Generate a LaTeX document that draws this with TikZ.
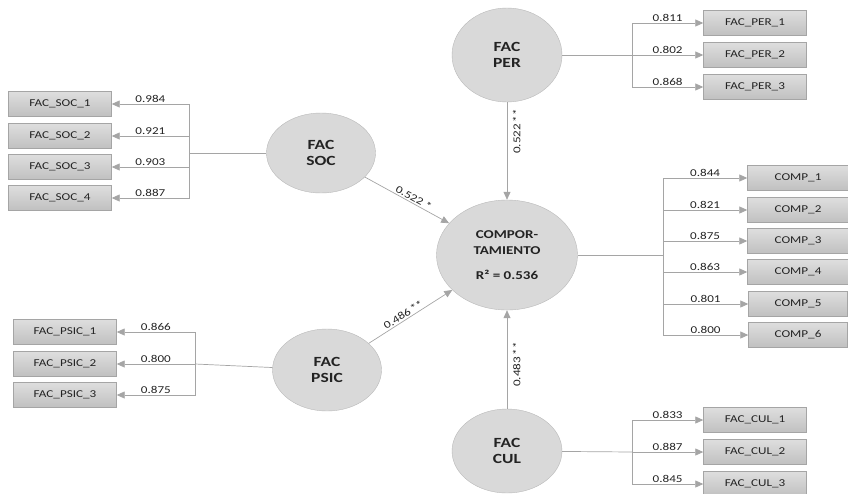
\documentclass[tikz,border=0pt]{standalone}
\usepackage{fontspec}
\setmainfont{Carlito}
\newfontfamily\widefont[FakeStretch=1.25]{Carlito}
\usetikzlibrary{shapes.geometric,arrows.meta}

\definecolor{lvfill}{RGB}{217,217,217}
\definecolor{lvline}{RGB}{185,185,185}
\definecolor{boxtop}{RGB}{222,222,222}
\definecolor{boxbot}{RGB}{192,192,192}
\definecolor{boxline}{RGB}{165,165,165}
\definecolor{pathline}{RGB}{165,165,165}
\definecolor{txt}{RGB}{35,35,35}

\tikzset{
  latent/.style={ellipse, draw=lvline, fill=lvfill, text=txt, font=\widefont\fontsize{14}{16}\selectfont\bfseries, align=center, inner sep=0pt},
  indic/.style={rectangle, draw=boxline, top color=boxtop, bottom color=boxbot, text=txt, font=\widefont\fontsize{10.5}{12}\selectfont, minimum width=103pt, minimum height=25pt, inner sep=0pt},
  link/.style={draw=pathline, line width=0.7pt},
  load/.style={link, -{Triangle[length=8pt,width=7pt]}},
  coef/.style={text=txt, font=\widefont\fontsize{10.5}{12}\selectfont, inner sep=1.5pt}
}

\begin{document}
\begin{tikzpicture}[x=1pt,y=-1pt]
	\useasboundingbox (0,0) rectangle (848,493);

	% Latent variables
	\node[latent, minimum width=110pt, minimum height=94pt] (per) at (507,55) {FAC\\PER};
	\node[latent, minimum width=109pt, minimum height=80pt] (soc) at (321,153) {FAC\\SOC};
	\node[latent, minimum width=109pt, minimum height=82pt] (psic) at (327,370) {FAC\\PSIC};
	\node[latent, minimum width=110pt, minimum height=84pt] (cul) at (507,451) {FAC\\CUL};
	\node[latent, minimum width=141pt, minimum height=110pt, font=\widefont\fontsize{12}{16}\selectfont\bfseries] (comp) at (507,255) {COMPOR-\\TAMIENTO\\[9pt]R² = 0.536};

	% Indicators FAC PER
	\node[indic] (per1) at (755,23) {FAC\_PER\_1};
	\node[indic] (per2) at (755,55) {FAC\_PER\_2};
	\node[indic] (per3) at (755,87) {FAC\_PER\_3};
	% Indicators FAC SOC
	\node[indic] (soc1) at (60,104) {FAC\_SOC\_1};
	\node[indic] (soc2) at (60,136) {FAC\_SOC\_2};
	\node[indic] (soc3) at (60,167) {FAC\_SOC\_3};
	\node[indic] (soc4) at (60,198) {FAC\_SOC\_4};
	% Indicators FAC PSIC
	\node[indic] (psic1) at (65,332) {FAC\_PSIC\_1};
	\node[indic] (psic2) at (65,364) {FAC\_PSIC\_2};
	\node[indic] (psic3) at (65,395) {FAC\_PSIC\_3};
	% Indicators FAC CUL
	\node[indic] (cul1) at (755,420) {FAC\_CUL\_1};
	\node[indic] (cul2) at (755,452) {FAC\_CUL\_2};
	\node[indic] (cul3) at (755,484) {FAC\_CUL\_3};
	% Indicators COMPORTAMIENTO
	\node[indic, minimum width=101pt] (comp1) at (798,178) {COMP\_1};
	\node[indic, minimum width=101pt] (comp2) at (798,210) {COMP\_2};
	\node[indic, minimum width=101pt] (comp3) at (798,241) {COMP\_3};
	\node[indic, minimum width=101pt] (comp4) at (798,272) {COMP\_4};
	\node[indic, minimum width=99pt] (comp5) at (798,304) {COMP\_5};
	\node[indic, minimum width=99pt] (comp6) at (798,335) {COMP\_6};

	% Branch points
	\coordinate (bper) at (632,55);
	\coordinate (bsoc) at (189,153);
	\coordinate (bpsic) at (195,364);
	\coordinate (bcul) at (632,452);
	\coordinate (bcomp) at (663,255);

	% Outer loadings
	\draw[link] (per) -- (bper);
	\draw[load] (bper) |- (per1) node[coef, pos=0.75, above] {0.811};
	\draw[load] (bper) |- (per2) node[coef, pos=0.75, above] {0.802};
	\draw[load] (bper) |- (per3) node[coef, pos=0.75, above] {0.868};

	\draw[link] (soc) -- (bsoc);
	\draw[load] (bsoc) |- (soc1) node[coef, pos=0.75, above] {0.984};
	\draw[load] (bsoc) |- (soc2) node[coef, pos=0.75, above] {0.921};
	\draw[load] (bsoc) |- (soc3) node[coef, pos=0.75, above] {0.903};
	\draw[load] (bsoc) |- (soc4) node[coef, pos=0.75, above] {0.887};

	\draw[link] (psic) -- (bpsic);
	\draw[load] (bpsic) |- (psic1) node[coef, pos=0.75, above] {0.866};
	\draw[load] (bpsic) |- (psic2) node[coef, pos=0.75, above] {0.800};
	\draw[load] (bpsic) |- (psic3) node[coef, pos=0.75, above] {0.875};

	\draw[link] (cul) -- (bcul);
	\draw[load] (bcul) |- (cul1) node[coef, pos=0.75, above] {0.833};
	\draw[load] (bcul) |- (cul2) node[coef, pos=0.75, above] {0.887};
	\draw[load] (bcul) |- (cul3) node[coef, pos=0.75, above] {0.845};

	\draw[link] (comp) -- (bcomp);
	\draw[load] (bcomp) |- (comp1) node[coef, pos=0.75, above] {0.844};
	\draw[load] (bcomp) |- (comp2) node[coef, pos=0.75, above] {0.821};
	\draw[load] (bcomp) |- (comp3) node[coef, pos=0.75, above] {0.875};
	\draw[load] (bcomp) |- (comp4) node[coef, pos=0.75, above] {0.863};
	\draw[load] (bcomp) |- (comp5) node[coef, pos=0.75, above] {0.801};
	\draw[load] (bcomp) |- (comp6) node[coef, pos=0.75, above] {0.800};

	% Path coefficients
	\draw[load] (per) -- node[coef, pos=0.3, rotate=90, below, yshift=-4pt] {0.522\,**} (comp);
	\draw[load] (soc) -- node[coef, sloped, above, pos=0.55] {0.522 *} (comp);
	\draw[load] (psic) -- node[coef, sloped, above, pos=0.45] {0.486\,**} (comp);
	\draw[load] (cul) -- node[coef, pos=0.45, rotate=90, below, yshift=-4pt] {0.483\,**} (comp);

\end{tikzpicture}
\end{document}
